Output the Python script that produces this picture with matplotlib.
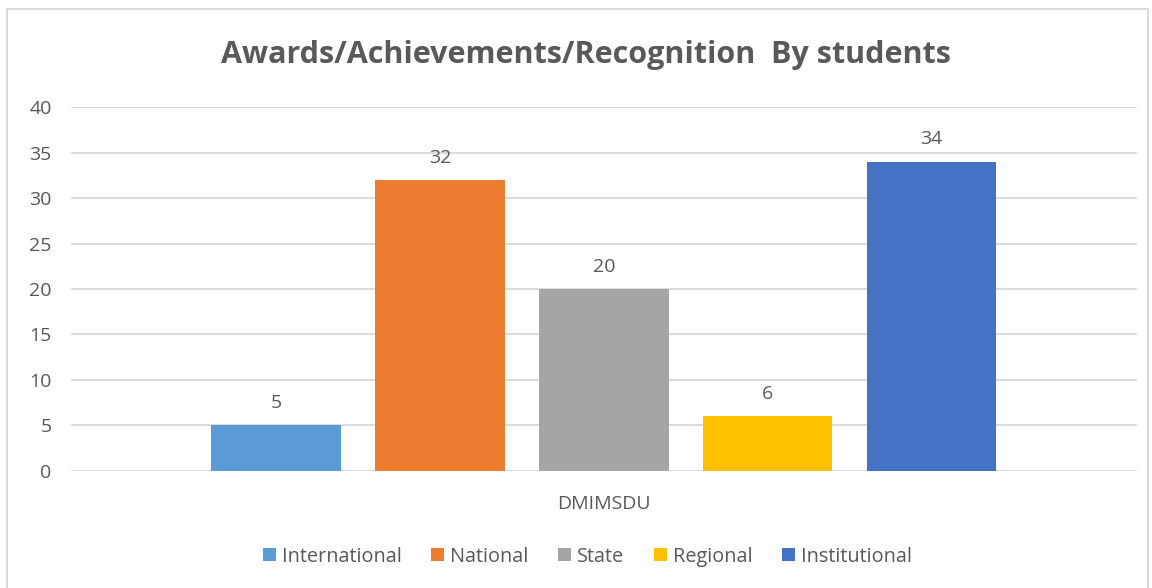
import matplotlib.pyplot as plt
from matplotlib.patches import Rectangle

categories = ["International", "National", "State", "Regional", "Institutional"]
values = [5, 32, 20, 6, 34]
colors = ["#5b9bd5", "#ed7d31", "#a5a5a5", "#ffc000", "#4472c4"]
group_label = "DMIMSDU"
title = "Awards/Achievements/Recognition  By students"

plt.rcParams["font.family"] = ["Open Sans", "DejaVu Sans"]
text_color = "#595959"

fig = plt.figure(figsize=(11.52, 5.88), dpi=100)
ax = fig.add_axes([0.0616, 0.199, 0.925, 0.619])

x = list(range(len(categories)))
bars = ax.bar(x, values, width=0.79, color=colors, label=categories, zorder=3)
for xi, v in zip(x, values):
    ax.annotate(str(v), (xi, v), xytext=(0, 9.5), textcoords="offset points",
                ha="center", va="bottom", fontsize=14, color=text_color)

ax.set_xlim(-1.25, 5.25)
ax.set_ylim(0, 40)
ax.set_yticks(range(0, 41, 5))
ax.yaxis.grid(True, color="#d9d9d9", lw=1.3, zorder=0)
ax.tick_params(axis="y", length=0, labelsize=14, labelcolor=text_color, pad=14)
ax.set_xticks([2])
ax.set_xticklabels([group_label])
ax.tick_params(axis="x", length=0, labelsize=14, labelcolor=text_color, pad=17)
for s in ax.spines.values():
    s.set_visible(False)

fig.text(0.509, 0.906, title, ha="center", va="center", fontsize=22,
         fontweight="bold", color=text_color)

leg = fig.legend(handles=bars, labels=categories, loc="center", ncol=5,
                 bbox_to_anchor=(0.51, 0.053), frameon=False, fontsize=14.3,
                 handlelength=0.65, handleheight=0.65, handletextpad=0.3,
                 columnspacing=1.5)
for t in leg.get_texts():
    t.set_color(text_color)

fig.patches.append(Rectangle((7 / 1152, -0.01), 1141 / 1152, 1 - 9 / 588 + 0.01,
                             transform=fig.transFigure, fill=False,
                             edgecolor="#d9d9d9", lw=1.5))

fig.savefig("out.png", dpi=100)
